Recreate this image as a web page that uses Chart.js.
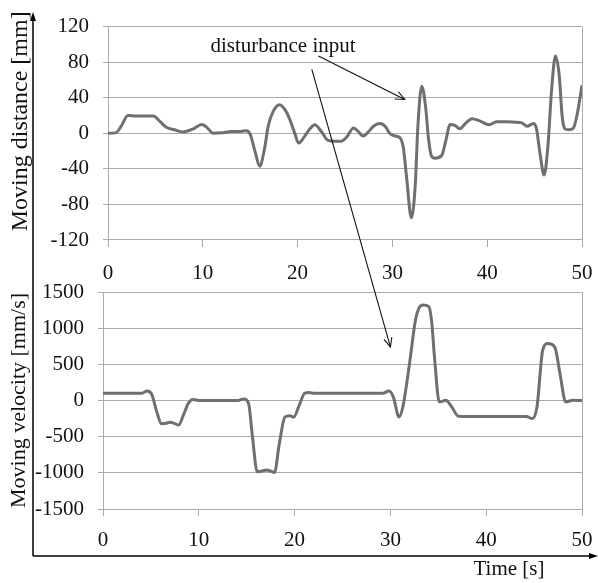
<!DOCTYPE html>
<html><head><meta charset="utf-8">
<script src="https://cdn.jsdelivr.net/npm/chart.js@4.4.0/dist/chart.umd.min.js"></script>
<style>
html,body{margin:0;padding:0;background:#fff;}
#wrap{position:relative;width:598px;height:583px;overflow:hidden;background:#fff;}
canvas{position:absolute;left:0;top:0;}
</style></head><body>
<div id="wrap"><canvas id="c1" width="598" height="583"></canvas><canvas id="c2" width="598" height="583"></canvas></div>
<script>
// ---- data ----
const timeDist = [0,0.8,1.4,2.1,3.0,4.0,4.8,5.5,6.2,7.0,7.9,9.0,9.9,10.4,11.1,12.0,13.0,14.0,14.6,15.0,15.5,16.0,16.5,16.9,17.4,18.1,18.7,19.2,19.7,20.1,20.7,21.3,21.8,22.5,23.2,24.0,24.6,25.2,25.9,26.4,26.9,27.5,28.0,28.7,29.3,29.7,30.3,30.8,31.15,31.5,32.0,32.4,32.7,33.1,33.5,33.8,34.1,34.5,35.2,35.6,36.1,36.6,37.1,37.7,38.4,39.2,40.2,41.0,42.0,43.0,43.6,44.2,44.9,45.2,45.6,46.0,46.4,46.8,47.2,47.6,47.9,48.2,48.6,49.1,49.5,50];
const distance = [0,0.5,8,20,19.5,19.5,19.5,13,6.5,4,1.5,5,10,7,0,0.5,2,2,3,-1,-20,-37,-18,8,24,32,26,15,0,-11,-4,5,9.5,2,-8,-9,-9,-4,6,2,-3,2,8,11,7,0,-3,-5,-16,-50,-95,-60,10,53,30,-5,-25,-28,-25,-10,10,9,5,11,16.5,14,9.5,13,13,12.5,12,8,11,5,-25,-47,-15,50,87,65,20,5,4,6,22,54];
const timeVel = [0,4.0,4.6,5.1,5.6,6.1,6.6,7.0,7.5,7.9,8.4,8.9,9.4,10.1,14.1,14.7,15.2,15.6,16.1,16.6,17.1,17.6,17.9,18.4,19.0,19.5,19.9,20.5,21.05,21.5,22.1,29.2,29.85,30.3,30.9,31.3,32.0,32.6,33.0,33.4,34.0,34.3,34.6,35.1,35.8,36.4,37.1,38.1,44.2,44.8,45.3,45.9,46.45,47.15,47.7,48.3,49.1,50];
const velocity = [100,100,130,80,-150,-320,-315,-300,-320,-340,-200,-40,15,0,0,22,-40,-500,-985,-975,-960,-980,-995,-600,-227,-210,-230,-60,100,110,100,100,130,50,-227,-89,512,1100,1280,1320,1300,1100,604,-19,4,-89,-217,-220,-220,-250,-89,697,789,742,374,-19,4,0];
const timeTicks = [0,10,20,30,40,50];
const distTicks = [-120,-80,-40,0,40,80,120];
const velTicks = [-1500,-1000,-500,0,500,1000,1500];
const annotText = 'disturbance input';
const annotTextPos = [10.8, 98];      // top chart data coords
const arrow1 = [22.2, 87, 31.3, 38];  // top chart: from -> to
const arrow2From = [21.5, 72];        // top chart
const arrow2To = [30.0, 740];         // bottom chart

const SERIF = '"Liberation Serif", "Times New Roman", serif';
const GRID = '#ababab';
const LINE = '#6f6f6f';

function mkScales(yTicks, yTitle, yTitleSize, yWidth, xPad){
  return {
    x: {
      type:'linear', min:0, max:50,
      afterBuildTicks: a => { a.ticks = timeTicks.map(v=>({value:v})); },
      afterFit: a => { a.height = 43; a.paddingRight = 11; a.paddingLeft = 0; },
      ticks:{ font:{family:SERIF,size:21}, color:'#111', padding:xPad, callback: v => String(v) },
      grid:{ color: c => (c.tick && c.tick.value===50) ? GRID : 'rgba(0,0,0,0)', tickColor:GRID, tickLength:7, lineWidth:1 },
      border:{ display:true, color:GRID, width:1 }
    },
    y: {
      type:'linear', min:yTicks[0], max:yTicks[yTicks.length-1],
      afterBuildTicks: a => { a.ticks = yTicks.map(v=>({value:v})); },
      afterFit: a => { a.width = yWidth; },
      ticks:{ font:{family:SERIF,size:21}, color:'#111', padding:14, callback: v => String(v) },
      grid:{ color:GRID, tickColor:GRID, tickLength:5, lineWidth:1 },
      border:{ display:true, color:GRID, width:1 },
      title:{ display:true, text:yTitle, font:{family:SERIF,size:yTitleSize}, color:'#111', padding:{top:6,bottom:0} }
    }
  };
}

const common = {
  responsive:false, animation:false, devicePixelRatio:1,
  plugins:{ legend:{display:false}, tooltip:{enabled:false} },
  elements:{ point:{radius:0} }
};

const topChart = new Chart(document.getElementById('c1'), {
  type:'line',
  data:{ datasets:[{ data: timeDist.map((t,i)=>({x:t,y:distance[i]})), borderColor:LINE, borderWidth:3, cubicInterpolationMode:'monotone', fill:false }] },
  options: Object.assign({}, common, {
    layout:{ padding:{ left:0, right:16, top:24, bottom:300 } },
    scales: mkScales(distTicks, '    Moving distance [mm]', 24, 108, 14)
  })
});

function arrowHead(ctx, x1,y1,x2,y2, len, ang){
  const a = Math.atan2(y2-y1, x2-x1);
  ctx.beginPath();
  ctx.moveTo(x2 - len*Math.cos(a-ang), y2 - len*Math.sin(a-ang));
  ctx.lineTo(x2,y2);
  ctx.lineTo(x2 - len*Math.cos(a+ang), y2 - len*Math.sin(a+ang));
  ctx.stroke();
}

const extras = {
  id:'extras',
  afterDraw(chart){
    const ctx = chart.ctx;
    const tx = topChart.scales.x, ty = topChart.scales.y;
    const bx = chart.scales.x, by = chart.scales.y;
    ctx.save();
    ctx.strokeStyle='#000'; ctx.fillStyle='#000'; ctx.lineWidth=1.5;
    ctx.beginPath(); ctx.moveTo(33,556); ctx.lineTo(33,18); ctx.stroke();
    ctx.beginPath(); ctx.moveTo(33,556); ctx.lineTo(592,556); ctx.stroke();
    ctx.beginPath(); ctx.moveTo(33,12); ctx.lineTo(30,21); ctx.lineTo(36,21); ctx.closePath(); ctx.fill();
    ctx.beginPath(); ctx.moveTo(598,556); ctx.lineTo(589,553); ctx.lineTo(589,559); ctx.closePath(); ctx.fill();
    ctx.font = '21px ' + SERIF; ctx.textAlign='center'; ctx.textBaseline='middle'; ctx.fillStyle='#111';
    ctx.fillText('Time [s]', 509, 569);
    ctx.textAlign='left';
    ctx.fillText(annotText, tx.getPixelForValue(annotTextPos[0]), ty.getPixelForValue(annotTextPos[1]));
    ctx.lineWidth=1.1; ctx.strokeStyle='#111';
    let x1=tx.getPixelForValue(arrow1[0]), y1=ty.getPixelForValue(arrow1[1]);
    let x2=tx.getPixelForValue(arrow1[2]), y2=ty.getPixelForValue(arrow1[3]);
    ctx.beginPath(); ctx.moveTo(x1,y1); ctx.lineTo(x2,y2); ctx.stroke();
    arrowHead(ctx,x1,y1,x2,y2,10,0.42);
    x1=tx.getPixelForValue(arrow2From[0]); y1=ty.getPixelForValue(arrow2From[1]);
    x2=bx.getPixelForValue(arrow2To[0]); y2=by.getPixelForValue(arrow2To[1]);
    ctx.beginPath(); ctx.moveTo(x1,y1); ctx.lineTo(x2,y2); ctx.stroke();
    arrowHead(ctx,x1,y1,x2,y2,10,0.42);
    ctx.restore();
  }
};

const botChart = new Chart(document.getElementById('c2'), {
  type:'line',
  data:{ datasets:[{ data: timeVel.map((t,i)=>({x:t,y:velocity[i]})), borderColor:LINE, borderWidth:3, cubicInterpolationMode:'monotone', fill:false }] },
  options: Object.assign({}, common, {
    layout:{ padding:{ left:0, right:16, top:292, bottom:31 } },
    scales: mkScales(velTicks, 'Moving velocity [mm/s]', 22, 103, 12)
  }),
  plugins:[extras]
});
</script>
</body></html>
